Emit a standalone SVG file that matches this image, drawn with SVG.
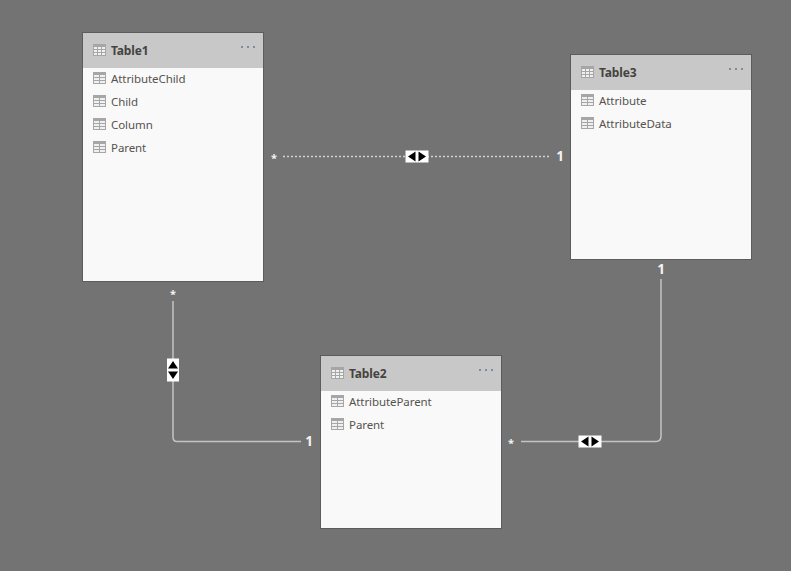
<svg xmlns="http://www.w3.org/2000/svg" width="791" height="571" viewBox="0 0 791 571">
  <style>
    .card { fill: #f9f9f9; stroke: #5c5c5c; stroke-width: 1; }
    .head { fill: #c8c8c8; }
    text { font-family: "Noto Sans", "Open Sans", "Liberation Sans", sans-serif; }
    .title { font-size: 12px; font-weight: 700; fill: #45433f; letter-spacing: -0.15px; }
    .field { font-size: 11.5px; fill: #55534f; letter-spacing: -0.08px; }
    .more { fill: #7f8c96; }
    .rel { fill: none; stroke: #c4c4c4; stroke-width: 1.5; }
    .dotted { stroke: #d2d2d2; stroke-dasharray: 2 2; }
    .one { font-size: 13.500px; font-weight: 700; fill: #f4f4f4; text-anchor: middle; }
    .many { font-size: 11px; font-weight: 700; fill: #f4f4f4; text-anchor: middle; }
    .badge { fill: #ffffff; }
  </style>
  <defs>
    <g id="icon-table">
      <rect x="0" y="0" width="13" height="12" fill="#a6a6a6"/>
      <rect x="1" y="3" width="3" height="2" fill="#f0f0f0"/>
      <rect x="5" y="3" width="3" height="2" fill="#f0f0f0"/>
      <rect x="9" y="3" width="3" height="2" fill="#f0f0f0"/>
      <rect x="1" y="6" width="3" height="2" fill="#f0f0f0"/>
      <rect x="5" y="6" width="3" height="2" fill="#f0f0f0"/>
      <rect x="9" y="6" width="3" height="2" fill="#f0f0f0"/>
      <rect x="1" y="9" width="3" height="2" fill="#f0f0f0"/>
      <rect x="5" y="9" width="3" height="2" fill="#f0f0f0"/>
      <rect x="9" y="9" width="3" height="2" fill="#f0f0f0"/>
    </g>
    <g id="icon-field">
      <rect x="0" y="0" width="13" height="12" fill="#a6a6a6"/>
      <rect x="1" y="3" width="5" height="2" fill="#f0f0f0"/>
      <rect x="7" y="3" width="5" height="2" fill="#f0f0f0"/>
      <rect x="1" y="6" width="5" height="2" fill="#f0f0f0"/>
      <rect x="7" y="6" width="5" height="2" fill="#f0f0f0"/>
      <rect x="1" y="9" width="5" height="2" fill="#f0f0f0"/>
      <rect x="7" y="9" width="5" height="2" fill="#f0f0f0"/>
    </g>
    <g id="dots" class="more">
      <rect x="0" y="0" width="2" height="2"/>
      <rect x="6" y="0" width="2" height="2"/>
      <rect x="12" y="0" width="2" height="2"/>
    </g>
    <g id="badge-h">
      <rect class="badge" x="-11.500" y="-6" width="23" height="12"/>
      <path d="M-1.500 -5V5L-9 0Z M1.500 -5V5L9 0Z" fill="#000"/>
    </g>
    <g id="badge-v">
      <rect class="badge" x="-6" y="-11.500" width="12" height="23"/>
      <path d="M-5 -1.500H5L0 -9Z M-5 1.500H5L0 9Z" fill="#000"/>
    </g>
  </defs>

  <rect width="791" height="571" fill="#737373"/>

  <g id="connectors">
    <path class="rel dotted" d="M283 156.500H551"/>
    <use href="#badge-h" x="417" y="156.500"/>
    <text class="many" x="274" y="162">*</text>
    <text class="one" x="560" y="161">1</text>

    <path class="rel" d="M173 301V437Q173 441.500 177 441.500H301"/>
    <use href="#badge-v" x="173" y="370"/>
    <text class="many" x="173" y="298">*</text>
    <text class="one" x="309" y="446">1</text>

    <path class="rel" d="M521 441.500H656Q661 441.500 661 436V279"/>
    <use href="#badge-h" x="590" y="441.500"/>
    <text class="many" x="511" y="447">*</text>
    <text class="one" x="661" y="274">1</text>
  </g>

  <g id="table1">
    <rect class="card" x="82.500" y="32.500" width="181" height="249"/>
    <rect class="head" x="83" y="33" width="180" height="35"/>
    <use href="#icon-table" x="93" y="44"/>
    <text class="title" x="111" y="55">Table1</text>
    <use href="#dots" x="241" y="46"/>
    <use href="#icon-field" x="93" y="72"/>
    <text class="field" x="111" y="83">AttributeChild</text>
    <use href="#icon-field" x="93" y="95"/>
    <text class="field" x="111" y="106">Child</text>
    <use href="#icon-field" x="93" y="118"/>
    <text class="field" x="111" y="129">Column</text>
    <use href="#icon-field" x="93" y="141"/>
    <text class="field" x="111" y="152">Parent</text>
  </g>

  <g id="table3">
    <rect class="card" x="570.500" y="54.500" width="181" height="205"/>
    <rect class="head" x="571" y="55" width="180" height="35"/>
    <use href="#icon-table" x="581" y="66"/>
    <text class="title" x="599" y="77">Table3</text>
    <use href="#dots" x="729" y="68"/>
    <use href="#icon-field" x="581" y="94"/>
    <text class="field" x="599" y="105">Attribute</text>
    <use href="#icon-field" x="581" y="117"/>
    <text class="field" x="599" y="128">AttributeData</text>
  </g>

  <g id="table2">
    <rect class="card" x="320.500" y="355.500" width="181" height="173"/>
    <rect class="head" x="321" y="356" width="180" height="35"/>
    <use href="#icon-table" x="331" y="367"/>
    <text class="title" x="349" y="378">Table2</text>
    <use href="#dots" x="479" y="369"/>
    <use href="#icon-field" x="331" y="395"/>
    <text class="field" x="349" y="406">AttributeParent</text>
    <use href="#icon-field" x="331" y="418"/>
    <text class="field" x="349" y="429">Parent</text>
  </g>
</svg>
